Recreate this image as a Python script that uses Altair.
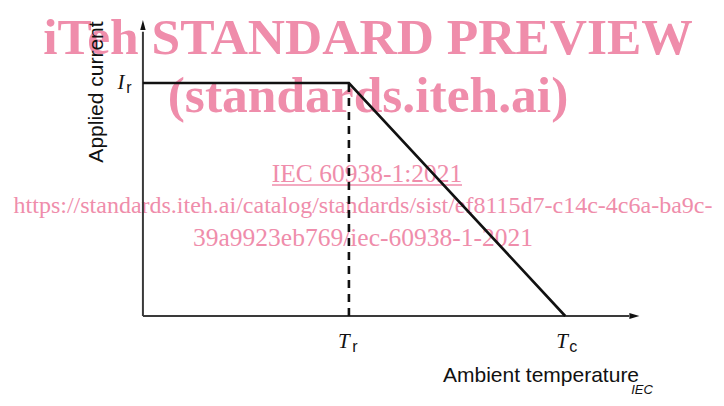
import altair as alt
import pandas as pd

# ---- data (abstract units: T_r = 1, I_r = 1) ----
curve_T = [0.0, 1.0, 2.05]
curve_I = [1.0, 1.0, 0.0]
T_r = 1.0
T_c = 2.05
I_r = 1.0
X_END = 2.41
Y_END = 1.27

x_dom = [-0.655, 2.782]
y_dom = [-0.352, 1.322]

W, H = 708, 390
PINK = "#ef8dab"
AX = "#3a3a3a"

xs = alt.Scale(domain=x_dom, nice=False, zero=False)
ys = alt.Scale(domain=y_dom, nice=False, zero=False)
X = lambda f: alt.X(f, type="quantitative", scale=xs, axis=None)
Y = lambda f: alt.Y(f, type="quantitative", scale=ys, axis=None)

curve = alt.Chart(pd.DataFrame({"T": curve_T, "I": curve_I})).mark_line(
    color="#111111", strokeWidth=2.6).encode(x=X("T"), y=Y("I"))

dash = alt.Chart(pd.DataFrame({"T": [T_r], "I0": [0.0], "I1": [I_r]})).mark_rule(
    color="#111111", strokeWidth=2.6, strokeDash=[8, 6]).encode(
    x=X("T"), y=Y("I0"), y2="I1")

xaxis = alt.Chart(pd.DataFrame({"a": [0.0], "b": [X_END - 0.05], "y": [0.0]})).mark_rule(
    color=AX, strokeWidth=2).encode(x=X("a"), x2="b", y=Y("y"))
yaxis = alt.Chart(pd.DataFrame({"x": [0.0], "a": [0.0], "b": [Y_END - 0.05]})).mark_rule(
    color=AX, strokeWidth=2).encode(x=X("x"), y=Y("a"), y2="b")

xarrow = alt.Chart(pd.DataFrame({"x": [X_END], "y": [0.0]})).mark_point(
    shape="M-1,-0.3L0,0L-1,0.3Z", filled=True, color="#111111", opacity=1, size=400,
    strokeWidth=0).encode(x=X("x"), y=Y("y"))
yarrow = alt.Chart(pd.DataFrame({"x": [0.0], "y": [Y_END]})).mark_point(
    shape="M-0.27,1L0,0L0.27,1Z", filled=True, color="#111111", opacity=1, size=400,
    strokeWidth=0).encode(x=X("x"), y=Y("y"))

def lab(x, y, text, dx, dy, font, size, style="normal", angle=0, color="#111111"):
    return alt.Chart(pd.DataFrame({"x": [x], "y": [y], "t": [text]})).mark_text(
        dx=dx, dy=dy, font=font, fontSize=size, fontStyle=style, angle=angle,
        color=color, align="center", baseline="middle").encode(
        x=X("x"), y=Y("y"), text="t:N")

labels = [
    lab(0.0, I_r, "I", -22, 0, "Liberation Serif", 21, "italic"),
    lab(0.0, I_r, "r", -14, 5, "Liberation Sans", 16),
    lab(T_r, 0.0, "T", -5, 26, "Liberation Serif", 21, "italic"),
    lab(T_r, 0.0, "r", 6, 31, "Liberation Sans", 16),
    lab(T_c, 0.0, "T", -3, 26, "Liberation Serif", 21, "italic"),
    lab(T_c, 0.0, "c", 8, 31, "Liberation Sans", 16),
]

def ptext(text, px, py, size, weight="normal", font="Liberation Serif", style="normal",
          color=PINK, angle=0, baseline="middle"):
    return alt.Chart(pd.DataFrame({"t": [text]})).mark_text(
        font=font, fontSize=size, fontWeight=weight, fontStyle=style, color=color,
        align="center", baseline=baseline, angle=angle).encode(
        x=alt.value(px), y=alt.value(py), text="t:N")

ax_titles = [
    ptext("Ambient temperature", 533, 368, 21, font="Liberation Sans", color="#111111"),
    ptext("Applied current", 89, 84, 21, font="Liberation Sans", color="#111111", angle=270),
    ptext("IEC", 634, 386, 13, font="Liberation Sans", style="italic", color="#111111",
          baseline="alphabetic"),
]

wm = [
    ptext("iTeh STANDARD PREVIEW", 360, 31, 51.5, weight="bold"),
    ptext("(standards.iteh.ai)", 360, 89, 51.5, weight="bold"),
    ptext("IEC 60938-1:2021", 359, 166, 25.5),
    ptext("https://standards.iteh.ai/catalog/standards/sist/ef8115d7-c14c-4c6a-ba9c-", 355, 198, 24.0),
    ptext("39a9923eb769/iec-60938-1-2021", 355, 230, 25.5),
]
underline = alt.Chart(pd.DataFrame({"a": [0]})).mark_rule(color=PINK, strokeWidth=1.3).encode(
    x=alt.value(264), x2=alt.value(454), y=alt.value(177))

chart = alt.layer(
    *wm, underline, xaxis, yaxis, xarrow, yarrow, curve, dash, *labels, *ax_titles
).properties(width=W, height=H, padding=0, autosize=alt.AutoSizeParams(type="none")
).configure_view(stroke=None)

chart.save("out.html", embed_options={"renderer": "svg", "actions": False})
